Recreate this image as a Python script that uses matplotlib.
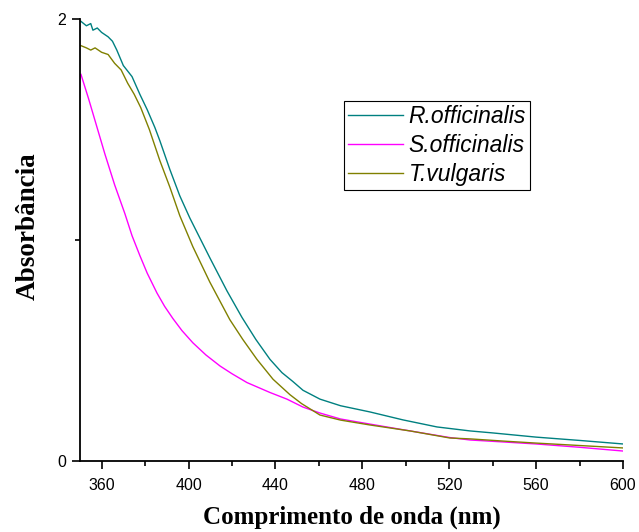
import numpy as np
import matplotlib.pyplot as plt
from matplotlib.ticker import FixedLocator

# Absorbance spectra
wl_rosm = [350.5, 353, 355, 356, 358, 360, 363, 365, 367, 370, 374, 377.6, 381,
           384.5, 386.8, 391.4, 396, 400.6, 405.2, 409.8, 417.7, 424.6, 431, 437.5,
           443, 448, 452.7, 460.5, 470, 483.5, 498.7, 514.4, 529.6, 540, 560, 580, 600]
abs_rosm = [1.99, 1.97, 1.98, 1.95, 1.96, 1.94, 1.92, 1.90, 1.86, 1.79, 1.74, 1.66, 1.59,
            1.51, 1.45, 1.32, 1.20, 1.10, 1.01, 0.92, 0.77, 0.65, 0.55, 0.46,
            0.40, 0.36, 0.32, 0.28, 0.25, 0.222, 0.186, 0.154, 0.136, 0.127, 0.108, 0.093, 0.077]

wl_salv = [350.5, 354, 357, 361.5, 366, 370.7, 374, 377.6, 381, 385.5, 389, 392.8, 397,
           402, 408, 414.5, 420, 426.9, 437.5, 445.3, 452.7, 460.5, 470, 483.5, 502,
           520.3, 529.6, 545, 560, 580, 600]
abs_salv = [1.75, 1.64, 1.54, 1.39, 1.25, 1.12, 1.02, 0.93, 0.85, 0.76, 0.70, 0.645, 0.59,
            0.535, 0.48, 0.43, 0.395, 0.355, 0.31, 0.28, 0.244, 0.217, 0.19, 0.167, 0.136,
            0.106, 0.095, 0.086, 0.077, 0.062, 0.045]

wl_thym = [350.5, 353, 355, 357, 360, 363, 366, 369, 372, 375, 378, 382, 386.8,
           391.4, 396, 402, 409.8, 419, 425, 431.5, 438.9, 446.7, 452, 460.5, 470,
           483.5, 502, 520.3, 529.6, 545, 560, 580, 600]
abs_thym = [1.88, 1.87, 1.86, 1.87, 1.85, 1.84, 1.80, 1.77, 1.71, 1.66, 1.60, 1.50, 1.36,
            1.24, 1.11, 0.97, 0.81, 0.64, 0.55, 0.46, 0.37, 0.30, 0.26, 0.208, 0.185,
            0.163, 0.136, 0.104, 0.10, 0.09, 0.081, 0.07, 0.059]

fig = plt.figure(figsize=(6.39, 5.32), dpi=100)
ax = fig.add_axes([0.125, 0.1335, 0.85, 0.8305])

ax.plot(wl_rosm, abs_rosm, color='#008080', lw=1, label='R.officinalis')
ax.plot(wl_salv, abs_salv, color='#ff00ff', lw=1, label='S.officinalis')
ax.plot(wl_thym, abs_thym, color='#808000', lw=1, label='T.vulgaris')

ax.set_xlim(350, 600)
ax.set_ylim(0, 2)
ax.xaxis.set_major_locator(FixedLocator([360, 400, 440, 480, 520, 560, 600]))
ax.xaxis.set_minor_locator(FixedLocator([380, 420, 460, 500, 540, 580]))
ax.yaxis.set_major_locator(FixedLocator([0, 2]))
ax.yaxis.set_minor_locator(FixedLocator([1]))

for s in ['top', 'right']:
    ax.spines[s].set_visible(False)
for s in ['left', 'bottom']:
    ax.spines[s].set_linewidth(1.3)

ax.tick_params(which='major', direction='out', length=6, width=1.2, pad=6,
               labelsize=11.5, labelfontfamily='Liberation Sans')
ax.tick_params(axis='y', which='major', pad=4)
ax.tick_params(which='minor', direction='out', length=3.5, width=1.2)

ax.set_xlabel('Comprimento de onda (nm)', fontsize=18, fontweight='bold',
              family='Liberation Serif', labelpad=9)
ax.set_ylabel('Absorbância', fontsize=19.5, fontweight='bold',
              family='Liberation Serif', labelpad=12)
ax.yaxis.label.set_y(0.532)

leg = ax.legend(loc='upper left', bbox_to_anchor=(0.486, 0.8145), fancybox=False,
                edgecolor='black', framealpha=1, handlelength=2.4, labelspacing=0.25,
                borderpad=0.18, handletextpad=0.25, borderaxespad=0,
                prop={'family': 'Liberation Sans', 'style': 'italic', 'size': 16.5})
leg.get_frame().set_linewidth(0.8)

fig.savefig('out.png', dpi=100)
